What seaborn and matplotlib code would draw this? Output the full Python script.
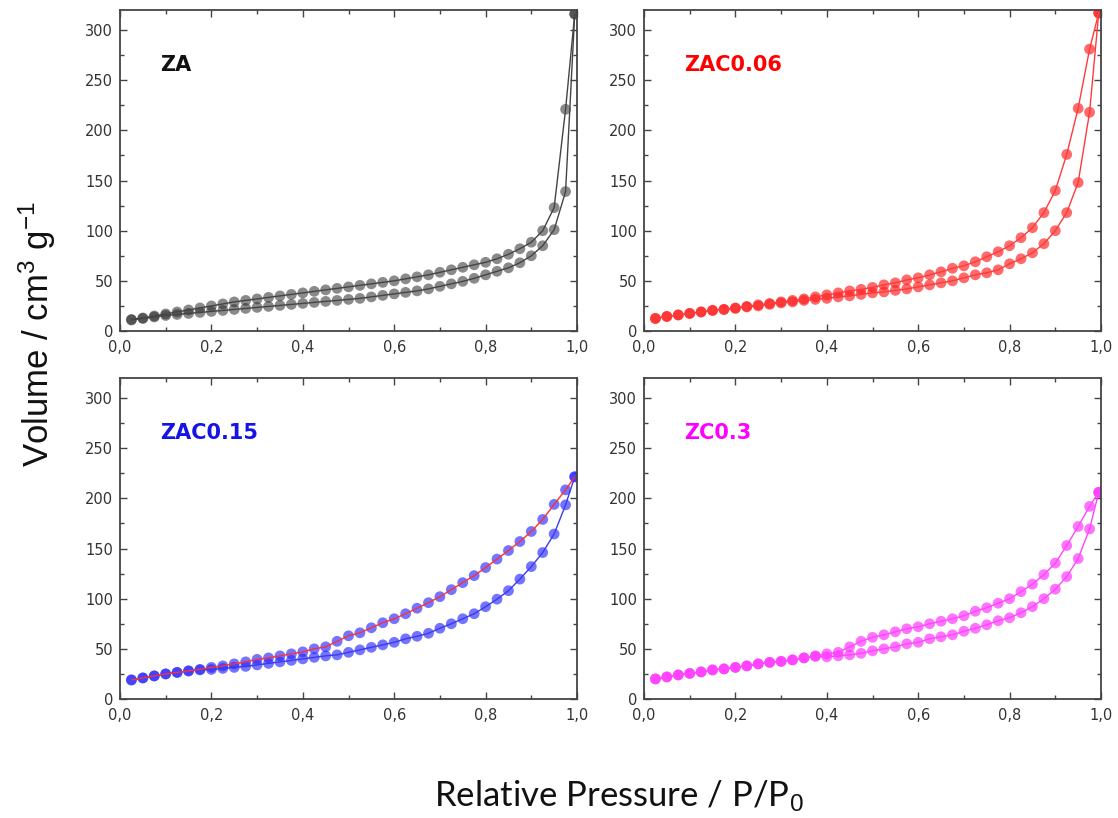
import numpy as np
import pandas as pd
import matplotlib
matplotlib.use("Agg")
import matplotlib.pyplot as plt
from matplotlib.ticker import MultipleLocator
import seaborn as sns

# ---------------- data ----------------
p_rel = [0.025, 0.05, 0.075, 0.1, 0.125, 0.15, 0.175, 0.2, 0.225, 0.25,
         0.275, 0.3, 0.325, 0.35, 0.375, 0.4, 0.425, 0.45, 0.475, 0.5,
         0.525, 0.55, 0.575, 0.6, 0.625, 0.65, 0.675, 0.7, 0.725, 0.75,
         0.775, 0.8, 0.825, 0.85, 0.875, 0.9, 0.925, 0.95, 0.975, 0.995]

za_ads = [11, 12.5, 14, 15.5, 16.5, 17.5, 18.5, 19.5, 20.5, 21.5,
          22.5, 23.5, 24.5, 25.5, 26.5, 27.5, 28.5, 29.5, 30.5, 31.5,
          32.5, 34, 35.5, 37, 38.5, 40, 42, 44.5, 47, 49.5,
          52.5, 56, 59.5, 63, 68, 75, 85, 101, 139, 316]
za_des = [11.5, 13, 15, 17, 19, 21, 23, 25, 27, 29,
          30.5, 32, 33.5, 35, 36.5, 38, 39.5, 41, 42.5, 44,
          45.5, 47, 48.5, 50, 52, 54, 56, 58.5, 61, 63.5,
          66, 68.5, 72, 76.5, 82, 88.5, 100, 123, 221, 316]

zac006_ads = [12.5, 14.5, 16, 17.5, 19, 20.5, 21.5, 22.5, 24, 25,
              26.5, 28, 29, 30.5, 31.5, 32.5, 34, 35, 36.5, 38,
              39, 40.5, 42, 44, 46, 48, 50, 53, 56, 58,
              61, 67, 72, 78, 87, 100, 118, 148, 218, 317]
zac006_des = [12.5, 14.5, 16, 17.5, 19, 20.5, 21.5, 23, 24.5, 26,
              27.5, 29, 30.5, 32, 34, 36, 38, 40, 41.5, 43.5,
              46, 48, 51, 53, 56, 59, 62.5, 65, 69, 74,
              79, 85, 93, 103, 118, 140, 176, 222, 281, 317]

zac015_ads = [19, 21, 23, 25, 26.5, 28, 29, 29.5, 30.5, 31.5,
              32.5, 34, 35.5, 37, 38.5, 40, 41.5, 43, 44, 46.5,
              49, 51.5, 54, 56.5, 60, 62.5, 65.5, 70.5, 75, 80,
              85, 92, 99.5, 108, 119.5, 132, 146, 164.5, 193.5, 221.5]
zac015_des = [19, 21, 23, 25, 26.5, 28, 29.5, 31.5, 33, 35,
              37, 39.5, 41, 43, 45, 47, 50, 52, 57.5, 63,
              66, 71, 76, 80, 85, 90.5, 96, 102, 109, 116,
              123, 131, 139.5, 148, 157, 167, 179, 194, 208.5, 221.5]

zc03_ads = [20, 22, 24, 25.5, 27, 29, 30, 31.5, 33, 35,
            36.5, 37.5, 39, 41, 42.5, 42, 43, 44, 45.5, 48,
            50, 52, 55, 56.5, 60, 62, 64, 67.5, 70.5, 74,
            78, 81, 86, 92, 100, 109.5, 122, 140, 169.5, 206]
zc03_des = [20, 22, 24, 25.5, 27, 29, 30, 31.5, 33, 35,
            36.5, 37.5, 39, 41, 43, 45, 46.5, 52, 57.5, 61.5,
            64, 67, 70, 72, 75, 77.5, 80, 83, 87.5, 91,
            95.5, 100, 107, 114.5, 124, 135.5, 153, 172, 192, 206]

sample_names = ["ZA", "ZAC0.06", "ZAC0.15", "ZC0.3"]
ads_series = [za_ads, zac006_ads, zac015_ads, zc03_ads]
des_series = [za_des, zac006_des, zac015_des, zc03_des]

xticks = [0.0, 0.2, 0.4, 0.6, 0.8, 1.0]
xtick_labels = ["0,0", "0,2", "0,4", "0,6", "0,8", "1,0"]
yticks = [0, 50, 100, 150, 200, 250, 300]
ytick_labels = ["0", "50", "100", "150", "200", "250", "300"]

# ---------------- styles ----------------
marker_colors = ["#2a2a2a", "#ff1a1a", "#2a2aff", "#ff2aff"]
ads_line_colors = ["#444444", "#ff3a3a", "#3a3aee", "#ff44ff"]
des_line_colors = ["#444444", "#ff3a3a", "#ff3030", "#ff44ff"]
label_colors = ["#111111", "#ff0000", "#1414e6", "#ff00ff"]
marker_alpha = [0.55, 0.65, 0.65, 0.65]

sns.set_style("white")
plt.rcParams["font.family"] = ["DejaVu Sans"]
plt.rcParams["mathtext.fontset"] = "custom"
plt.rcParams["mathtext.rm"] = "Liberation Sans"
plt.rcParams["mathtext.it"] = "Liberation Sans"

W, H = 1118, 818
fig = plt.figure(figsize=(W / 100, H / 100), dpi=100)

# axes boxes in pixels (left, top, right, bottom)
boxes = [(120, 10, 577, 331), (644, 10, 1101, 331),
         (120, 378, 577, 699), (644, 378, 1101, 699)]

for i, (l, t, r, b) in enumerate(boxes):
    ax = fig.add_axes([l / W, 1 - b / H, (r - l) / W, (b - t) / H])
    df_a = pd.DataFrame({"p": p_rel, "v": ads_series[i]})
    df_d = pd.DataFrame({"p": p_rel, "v": des_series[i]})

    sns.scatterplot(data=df_a, x="p", y="v", ax=ax, s=60, color=marker_colors[i],
                    alpha=marker_alpha[i], edgecolor="none", zorder=2, legend=False)
    sns.scatterplot(data=df_d, x="p", y="v", ax=ax, s=60, color=marker_colors[i],
                    alpha=marker_alpha[i], edgecolor="none", zorder=2, legend=False)
    sns.lineplot(data=df_a, x="p", y="v", ax=ax, sort=False, estimator=None,
                 color=ads_line_colors[i], lw=1.0, zorder=3, legend=False)
    sns.lineplot(data=df_d, x="p", y="v", ax=ax, sort=False, estimator=None,
                 color=des_line_colors[i], lw=1.0, zorder=3, legend=False)

    ax.set_xlim(0, 1.0)
    ax.set_ylim(0, 320)
    ax.set_xticks(xticks)
    ax.set_xticklabels(xtick_labels)
    ax.set_yticks(yticks)
    ax.set_yticklabels(ytick_labels)
    ax.xaxis.set_minor_locator(MultipleLocator(0.1))
    ax.yaxis.set_minor_locator(MultipleLocator(25))
    ax.tick_params(which="both", direction="in", top=True, right=True,
                   bottom=True, left=True, color="#444444", width=1.0)
    ax.tick_params(which="major", length=5, labelsize=10.5, labelcolor="#333333")
    ax.tick_params(axis="x", which="major", pad=6.5)
    ax.tick_params(axis="y", which="major", pad=5)
    ax.tick_params(which="minor", length=3)
    ax.set_xlabel("")
    ax.set_ylabel("")
    for sp in ax.spines.values():
        sp.set_visible(True)
        sp.set_color("#444444")
        sp.set_linewidth(1.3)

    ax.text(0.088, 265, sample_names[i], color=label_colors[i], fontsize=15,
            fontweight="bold", ha="left", va="center")

fig.text(0.033, 0.592, "Volume / cm$^{3}$ g$^{-1}$", rotation=90, ha="center",
         va="center", fontsize=25, family="Liberation Sans", color="#111111")
fig.text(0.5537, 1 - 806 / H, "Relative Pressure / P/P$_{0}$", ha="center",
         va="baseline", fontsize=25, family="Lato", color="#111111")

fig.savefig("out.png", dpi=100)
